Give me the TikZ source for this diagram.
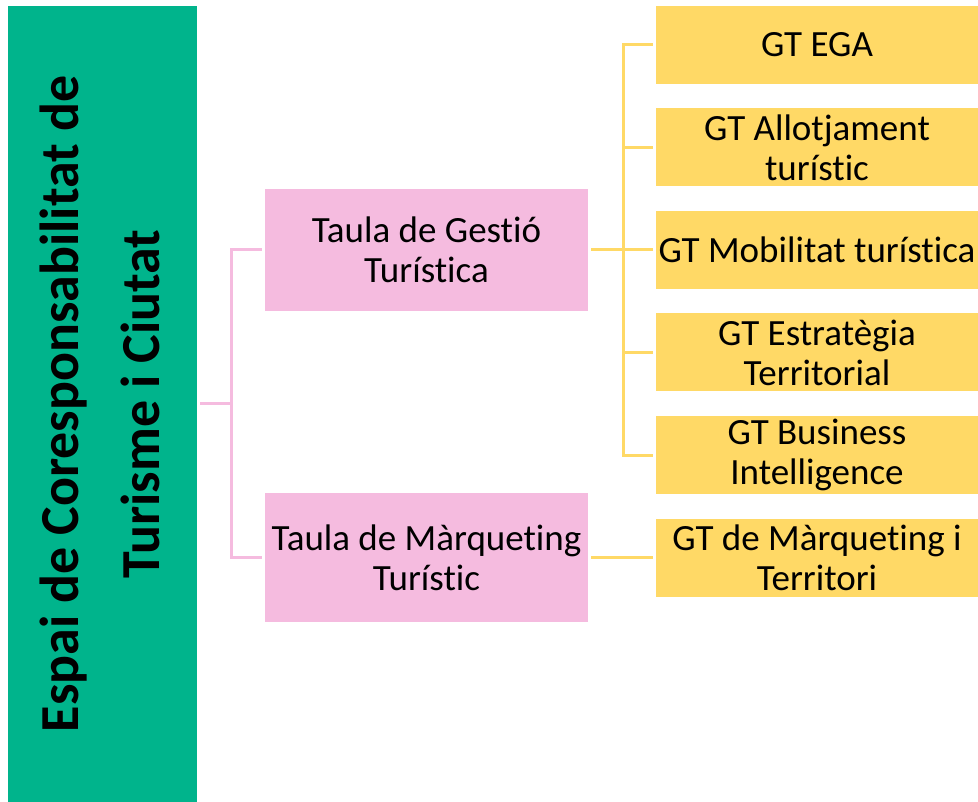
\documentclass[tikz,border=0pt]{standalone}
\usepackage{fontspec}
\setmainfont{Carlito}[Ligatures=CommonOff]
\definecolor{gr}{HTML}{00B48C}
\definecolor{pk}{HTML}{F5BBDF}
\definecolor{yl}{HTML}{FFD966}
\begin{document}
\begin{tikzpicture}[x=1pt,y=-1pt,
  pbox/.style={fill=pk, draw=none, minimum width=323pt, inner sep=0pt, align=center, font=\fontsize{37}{40}\selectfont},
  ybox/.style={fill=yl, draw=none, minimum width=322pt, minimum height=78pt, inner sep=0pt, align=center, font=\fontsize{37}{40}\selectfont},
  pline/.style={draw=pk, line width=3pt},
  yline/.style={draw=yl, line width=3pt}]
\useasboundingbox (0,0) rectangle (978,802);
\node[fill=gr, minimum width=189pt, minimum height=796pt, inner sep=0pt] (main) at (102.5,404) {};
\node[rotate=90, align=center, font=\bfseries\fontsize{55}{81}\selectfont] (maintxt) at (100,404) {\scalebox{0.98}[1]{Espai de Coresponsabilitat de}\\\scalebox{0.98}[1]{Turisme i Ciutat}};
\node[pbox, minimum height=122pt] (tg) at (426.5,250) {Taula de Gestió\\Turística};
\node[pbox, minimum height=129pt] (tm) at (426.5,557.5) {Taula de Màrqueting\\Turístic};
\node[ybox] (g1) at (817,45) {GT EGA};
\node[ybox] (g2) at (817,147.5) {GT Allotjament\\turístic};
\node[ybox] (g3) at (817,250) {GT Mobilitat turística};
\node[ybox] (g4) at (817,352.5) {GT Estratègia\\Territorial};
\node[ybox] (g5) at (817,455) {GT Business\\Intelligence};
\node[ybox] (g6) at (817,557.5) {GT de Màrqueting i\\Territori};
\coordinate (pj) at (231,404);
\coordinate (yj) at (623,250);
\draw[pline] ([xshift=3pt]main.east) -- (pj);
\draw[pline] ([xshift=-3pt]tg.west) -| (pj) |- ([xshift=-3pt]tm.west);
\draw[yline] ([xshift=3pt]tg.east) -- ([xshift=-3pt]g3.west);
\draw[yline] ([xshift=-3pt]g1.west) -| (yj) |- ([xshift=-3pt]g5.west);
\draw[yline] (yj |- g2.west) -- ([xshift=-3pt]g2.west);
\draw[yline] (yj |- g4.west) -- ([xshift=-3pt]g4.west);
\draw[yline] ([xshift=3pt]tm.east) -- ([xshift=-3pt]g6.west);
\end{tikzpicture}
\end{document}
